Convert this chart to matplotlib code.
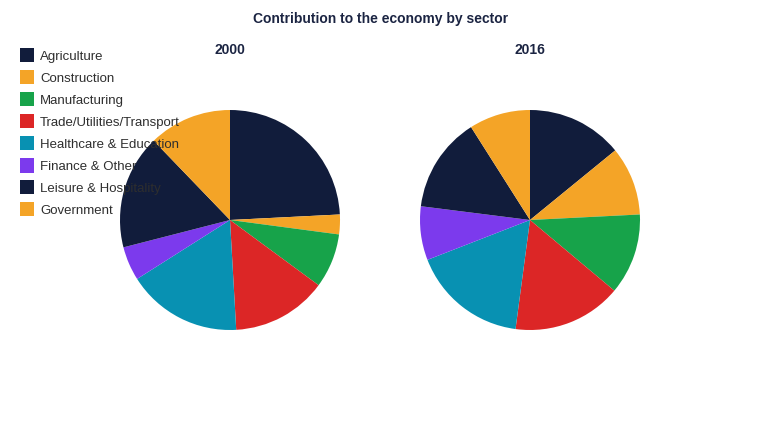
import matplotlib.pyplot as plt
from matplotlib.patches import Rectangle

plt.rcParams['font.family'] = ['Liberation Sans', 'DejaVu Sans']

sectors = ["Agriculture", "Construction", "Manufacturing", "Trade/Utilities/Transport",
           "Healthcare & Education", "Finance & Other", "Leisure & Hospitality", "Government"]
share_2000 = [24.2, 2.9, 8.0, 14.0, 16.9, 5.0, 16.8, 12.2]
share_2016 = [14.1, 10.1, 11.9, 16.0, 17.0, 7.9, 14.0, 9.0]
years = ["2000", "2016"]
colors = ["#111c3b", "#f4a427", "#17a34a", "#dc2626", "#0891b2", "#7c3aed", "#111c3b", "#f4a427"]

W, H = 760, 440
fig = plt.figure(figsize=(W / 100, H / 100), dpi=100)

title_color = "#1b2442"
fig.text(381 / W, 1 - 19.5 / H, "Contribution to the economy by sector", ha="center", va="center",
         fontsize=10, fontweight="bold", color=title_color)

r = 110
for (cx, label, vals) in [(230, years[0], share_2000), (530, years[1], share_2016)]:
    ax = fig.add_axes([(cx - r) / W, (H - 220 - r) / H, 2 * r / W, 2 * r / H])
    ax.pie(vals, colors=colors, startangle=90, counterclock=False,
           wedgeprops=dict(linewidth=0))
    ax.set_xlim(-1, 1)
    ax.set_ylim(-1, 1)
    ax.set_aspect("equal")
    ax.axis("off")
    fig.text(cx / W, 1 - 50.5 / H, label, ha="center", va="center",
             fontsize=10, fontweight="bold", color=title_color)

# legend drawn on top of the pies, like the original
for i, (name, c) in enumerate(zip(sectors, colors)):
    y = 55.5 + i * 22
    fig.patches.append(Rectangle((20 / W, 1 - (y + 7) / H), 14 / W, 14 / H,
                                 transform=fig.transFigure, facecolor=c, edgecolor="none", zorder=5))
    fig.text(40 / W, 1 - (y + 1.5) / H, name, ha="left", va="center", fontsize=9.5,
             color="#2e2e2e", zorder=6)

fig.savefig("out.png", dpi=100, facecolor="white")
